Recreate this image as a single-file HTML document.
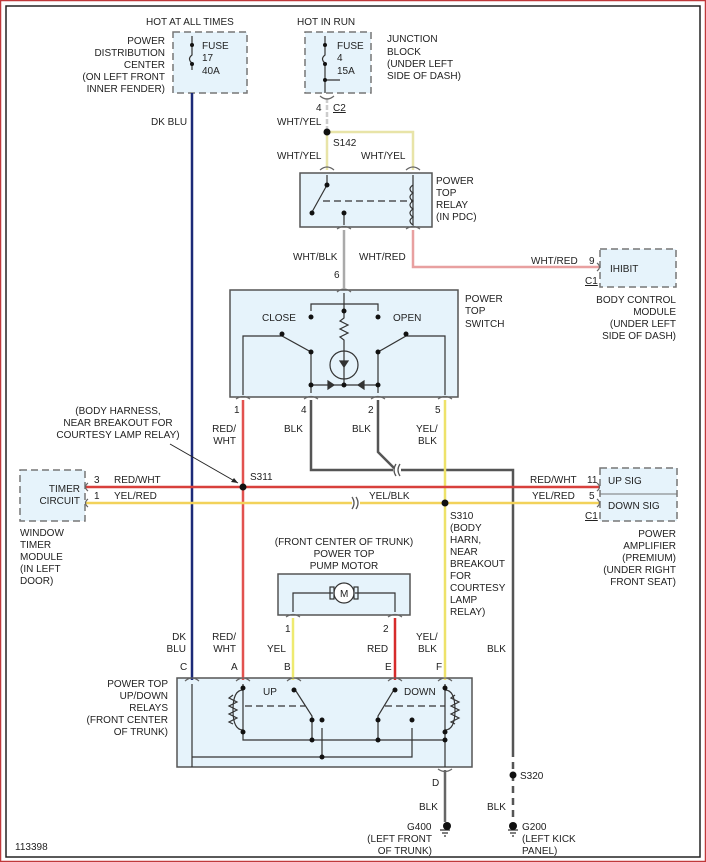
<!DOCTYPE html>
<html><head><meta charset="utf-8"><style>
html,body{margin:0;padding:0;background:#fff}
svg{display:block}
text{font-family:"Liberation Sans",Arial,sans-serif;font-size:10px;fill:#222}
</style></head><body>
<svg width="706" height="862" viewBox="0 0 706 862" xmlns="http://www.w3.org/2000/svg">
<rect x="0.5" y="0.5" width="705" height="861" fill="#fff" stroke="#c0393b" stroke-width="1.5"/>
<rect x="6" y="6" width="694" height="851" fill="#fff" stroke="#222" stroke-width="1.5"/>

<g fill="#e6f3fb" stroke="#777" stroke-width="1.5">
<rect x="173" y="32" width="74" height="61" stroke-dasharray="7,4"/>
<rect x="305" y="32" width="66" height="61" stroke-dasharray="7,4"/>
<rect x="300" y="173" width="132" height="54" stroke="#555"/>
<rect x="230" y="290" width="228" height="107" stroke="#555"/>
<rect x="20" y="470" width="65" height="51" stroke-dasharray="7,4"/>
<rect x="600" y="249" width="76" height="38" stroke-dasharray="7,4"/>
<rect x="600" y="468" width="77" height="53" stroke-dasharray="7,4"/>
<rect x="278" y="574" width="132" height="41" stroke="#555"/>
<rect x="177" y="678" width="295" height="89" stroke="#555"/>
</g>
<line x1="600" y1="494" x2="677" y2="494" stroke="#777" stroke-width="1"/>

<g fill="none" stroke-width="2.5">
<line x1="192" y1="93" x2="192" y2="680" stroke="#1c2a78"/>
<line x1="327" y1="98" x2="327" y2="132" stroke="#ccc" stroke-dasharray="5,2"/>
<path d="M327 132 V170 M327 132 H413 V170" stroke="#e8e4a8"/>
<line x1="344" y1="230" x2="344" y2="288" stroke="#aaa"/>
<path d="M413 230 V267 H600" stroke="#e8a0a0"/>
<line x1="243" y1="400" x2="243" y2="680" stroke="#e2524f"/>
<path d="M311 400 V470 H393 M401 470 H513 V750" stroke="#555"/>
<path d="M378 400 V452 L394 468" stroke="#555"/>
<line x1="513" y1="750" x2="513" y2="820" stroke="#555" stroke-dasharray="7,5"/>
<line x1="445" y1="400" x2="445" y2="680" stroke="#eee26a"/>
<line x1="85" y1="487" x2="600" y2="487" stroke="#d8403c"/>
<path d="M85 503 H352 M360 503 H600" stroke="#f2d25a"/>
<line x1="293" y1="618" x2="293" y2="680" stroke="#eeea70"/>
<line x1="395" y1="618" x2="395" y2="680" stroke="#d62b2b"/>
<line x1="445" y1="770" x2="445" y2="822" stroke="#666"/>
</g>
<g fill="none" stroke="#555" stroke-width="1.3">
<path d="M396 464 q-4 6 0 12 M400 464 q-4 6 0 12"/>
<path d="M352 497 q4 6 0 12 M356 497 q4 6 0 12"/>
</g>
<g fill="none" stroke="#666" stroke-width="1.2">
<path d="M320 96 q7 6 14 0"/>
<path d="M337 229 q7 -5 14 0 M406 229 q7 -5 14 0 M320 170 q7 -6 14 0 M406 170 q7 -6 14 0 M337 292 q7 -6 14 0"/>
<path d="M236 399 q7 -5 14 0 M304 399 q7 -5 14 0 M371 399 q7 -5 14 0 M438 399 q7 -5 14 0"/>
<path d="M286 617 q7 -5 14 0 M388 617 q7 -5 14 0"/>
<path d="M185 681 q7 -6 14 0 M236 681 q7 -6 14 0 M287 681 q7 -6 14 0 M388 681 q7 -6 14 0 M438 681 q7 -6 14 0 M438 769 q7 5 14 0"/>
<path d="M88 483 q-5 4 0 8 M88 499 q-5 4 0 8 M597 483 q5 4 0 8 M597 499 q5 4 0 8 M597 263 q5 4 0 8"/>
</g>

<g fill="none" stroke="#333" stroke-width="1.2">
<path d="M192 36 V55 q-5 4 0 8 V70"/>
<path d="M325 36 V55 q-5 4 0 8 V80 H340 M325 80 V93"/>
<path d="M327 175 V185 M327 185 L312 212 M344 213 V225 M413 175 V225 q-6 -4 0 -8 q-6 -4 0 -8 q-6 -4 0 -8 q-6 -4 0 -8 q-6 -4 0 -8"/>
<line x1="323" y1="201" x2="413" y2="201" stroke-dasharray="7,4"/>
<path d="M344 293 V311 M311 311 V304 H378 V311 M344 304 V318 l-4 3 8 4 -8 4 8 4 -8 4 4 3 V385 M243 395 V336 H282 L311 352 V393 M445 395 V336 H406 L378 352 V393 M311 385 H378"/>
<circle cx="344" cy="365" r="14"/>
<path d="M340 361 h8 l-4 6 z" fill="#333"/>
<path d="M334 385 l-6 -4 v8 z M358 385 l6 -4 v8 z" fill="#333"/>
<path d="M293 612 V593 H333 M355 593 H395 V612"/>
<circle cx="344" cy="593" r="10" fill="#fff"/>
<rect x="330" y="587" width="4" height="12"/><rect x="354" y="587" width="4" height="12"/>
<path d="M192 767 V684 M243 684 V740 H445 M243 690 q-10 0 -10 20 q0 20 10 20 M233 695 l-4 3 8 4 -8 4 8 4 -8 4 8 4 -8 4 4 2 M243 690 V730 M445 684 V767 M445 690 q10 0 10 20 q0 20 -10 20 M455 695 l-4 3 8 4 -8 4 8 4 -8 4 8 4 -8 4 4 2 M192 757 H322 V728 M322 757 H412 V728 M294 688 L312 716 V740 M395 688 L378 716 V740"/>
<line x1="245" y1="706" x2="305" y2="706" stroke-dasharray="7,4"/>
<line x1="385" y1="706" x2="445" y2="706" stroke-dasharray="7,4"/>
<path d="M440 830 h10 M442 833 h6 M444 836 h2 M508 830 h10 M510 833 h6 M512 836 h2"/>
</g>
<g fill="#111">
<circle cx="327" cy="132" r="3.5"/><circle cx="243" cy="487" r="3.5"/><circle cx="445" cy="503" r="3.5"/><circle cx="513" cy="775" r="3.5"/>
<circle cx="447" cy="826" r="4"/><circle cx="513" cy="826" r="4"/>
<circle cx="192" cy="45" r="2"/><circle cx="192" cy="64" r="2"/><circle cx="325" cy="45" r="2"/><circle cx="325" cy="64" r="2"/><circle cx="325" cy="80" r="2"/>
<circle cx="327" cy="185" r="2.5"/><circle cx="312" cy="213" r="2.5"/><circle cx="344" cy="213" r="2.5"/>
<circle cx="311" cy="317" r="2.5"/><circle cx="344" cy="311" r="2.5"/><circle cx="378" cy="317" r="2.5"/><circle cx="282" cy="334" r="2.5"/><circle cx="406" cy="334" r="2.5"/><circle cx="311" cy="352" r="2.5"/><circle cx="378" cy="352" r="2.5"/><circle cx="311" cy="385" r="2.5"/><circle cx="344" cy="385" r="2.5"/><circle cx="378" cy="385" r="2.5"/>
<circle cx="243" cy="688" r="2.5"/><circle cx="243" cy="732" r="2.5"/><circle cx="294" cy="690" r="2.5"/><circle cx="312" cy="720" r="2.5"/><circle cx="312" cy="740" r="2.5"/><circle cx="322" cy="720" r="2.5"/><circle cx="322" cy="757" r="2.5"/><circle cx="395" cy="690" r="2.5"/><circle cx="378" cy="720" r="2.5"/><circle cx="378" cy="740" r="2.5"/><circle cx="412" cy="720" r="2.5"/><circle cx="445" cy="688" r="2.5"/><circle cx="445" cy="732" r="2.5"/><circle cx="445" cy="740" r="2.5"/>
</g>

<text x="146" y="25">HOT AT ALL TIMES</text>
<text x="297" y="25">HOT IN RUN</text>
<text x="165" y="44" text-anchor="end">POWER</text>
<text x="165" y="56" text-anchor="end">DISTRIBUTION</text>
<text x="165" y="68" text-anchor="end">CENTER</text>
<text x="165" y="80" text-anchor="end">(ON LEFT FRONT</text>
<text x="165" y="92" text-anchor="end">INNER FENDER)</text>
<text x="202" y="49">FUSE</text><text x="202" y="61">17</text><text x="202" y="74">40A</text>
<text x="337" y="49">FUSE</text><text x="337" y="61">4</text><text x="337" y="74">15A</text>
<text x="387" y="42">JUNCTION</text><text x="387" y="55">BLOCK</text><text x="387" y="67">(UNDER LEFT</text><text x="387" y="79">SIDE OF DASH)</text>
<text x="151" y="125">DK BLU</text>
<text x="316" y="111">4</text><text x="333" y="111" text-decoration="underline">C2</text>
<text x="277" y="125">WHT/YEL</text>
<text x="333" y="146">S142</text>
<text x="277" y="159">WHT/YEL</text><text x="361" y="159">WHT/YEL</text>
<text x="436" y="184">POWER</text><text x="436" y="196">TOP</text><text x="436" y="208">RELAY</text><text x="436" y="220">(IN PDC)</text>
<text x="293" y="260">WHT/BLK</text><text x="359" y="260">WHT/RED</text>
<text x="334" y="278">6</text>
<text x="531" y="264">WHT/RED</text><text x="589" y="264">9</text>
<text x="585" y="284" text-decoration="underline">C1</text>
<text x="610" y="272">IHIBIT</text>
<text x="676" y="303" text-anchor="end">BODY CONTROL</text><text x="676" y="315" text-anchor="end">MODULE</text><text x="676" y="327" text-anchor="end">(UNDER LEFT</text><text x="676" y="339" text-anchor="end">SIDE OF DASH)</text>
<text x="465" y="302">POWER</text><text x="465" y="314">TOP</text><text x="465" y="327">SWITCH</text>
<text x="262" y="321">CLOSE</text><text x="393" y="321">OPEN</text>
<text x="234" y="413">1</text><text x="301" y="413">4</text><text x="368" y="413">2</text><text x="435" y="413">5</text>
<text x="236" y="432" text-anchor="end">RED/</text><text x="236" y="444" text-anchor="end">WHT</text>
<text x="284" y="432">BLK</text><text x="352" y="432">BLK</text>
<text x="416" y="432">YEL/</text><text x="418" y="444">BLK</text>
<text x="118" y="414" text-anchor="middle">(BODY HARNESS,</text><text x="118" y="426" text-anchor="middle">NEAR BREAKOUT FOR</text><text x="118" y="438" text-anchor="middle">COURTESY LAMP RELAY)</text>
<path d="M170 444 L238 483" stroke="#222" stroke-width="1"/><path d="M238 483 l-7 -1 3 -4z" fill="#222"/>
<text x="250" y="480">S311</text>
<text x="114" y="483">RED/WHT</text><text x="94" y="483">3</text>
<text x="114" y="499">YEL/RED</text><text x="94" y="499">1</text>
<text x="80" y="492" text-anchor="end">TIMER</text><text x="80" y="504" text-anchor="end">CIRCUIT</text>
<text x="20" y="536">WINDOW</text><text x="20" y="548">TIMER</text><text x="20" y="560">MODULE</text><text x="20" y="572">(IN LEFT</text><text x="20" y="584">DOOR)</text>
<text x="369" y="499">YEL/BLK</text>
<text x="450" y="519">S310</text><text x="450" y="531">(BODY</text><text x="450" y="543">HARN,</text><text x="450" y="555">NEAR</text><text x="450" y="567">BREAKOUT</text><text x="450" y="579">FOR</text><text x="450" y="591">COURTESY</text><text x="450" y="603">LAMP</text><text x="450" y="615">RELAY)</text>
<text x="530" y="483">RED/WHT</text><text x="587" y="483">11</text>
<text x="532" y="499">YEL/RED</text><text x="589" y="499">5</text>
<text x="585" y="519" text-decoration="underline">C1</text>
<text x="608" y="484">UP SIG</text><text x="608" y="509">DOWN SIG</text>
<text x="676" y="537" text-anchor="end">POWER</text><text x="676" y="549" text-anchor="end">AMPLIFIER</text><text x="676" y="561" text-anchor="end">(PREMIUM)</text><text x="676" y="573" text-anchor="end">(UNDER RIGHT</text><text x="676" y="585" text-anchor="end">FRONT SEAT)</text>
<text x="344" y="545" text-anchor="middle">(FRONT CENTER OF TRUNK)</text><text x="344" y="557" text-anchor="middle">POWER TOP</text><text x="344" y="569" text-anchor="middle">PUMP MOTOR</text>
<text x="340" y="597" font-size="11">M</text>
<text x="285" y="632">1</text><text x="383" y="632">2</text>
<text x="186" y="640" text-anchor="end">DK</text><text x="186" y="652" text-anchor="end">BLU</text>
<text x="236" y="640" text-anchor="end">RED/</text><text x="236" y="652" text-anchor="end">WHT</text>
<text x="267" y="652">YEL</text><text x="367" y="652">RED</text>
<text x="416" y="640">YEL/</text><text x="418" y="652">BLK</text>
<text x="487" y="652">BLK</text>
<text x="180" y="670">C</text><text x="231" y="670">A</text><text x="284" y="670">B</text><text x="385" y="670">E</text><text x="436" y="670">F</text>
<text x="168" y="687" text-anchor="end">POWER TOP</text><text x="168" y="699" text-anchor="end">UP/DOWN</text><text x="168" y="711" text-anchor="end">RELAYS</text><text x="168" y="723" text-anchor="end">(FRONT CENTER</text><text x="168" y="735" text-anchor="end">OF TRUNK)</text>
<text x="263" y="695">UP</text><text x="404" y="695">DOWN</text>
<text x="432" y="786">D</text>
<text x="419" y="810">BLK</text><text x="487" y="810">BLK</text>
<text x="520" y="779">S320</text>
<text x="407" y="830">G400</text>
<text x="432" y="842" text-anchor="end">(LEFT FRONT</text><text x="432" y="854" text-anchor="end">OF TRUNK)</text>
<text x="522" y="830">G200</text><text x="522" y="842">(LEFT KICK</text><text x="522" y="854">PANEL)</text>
<text x="15" y="850" font-size="9">113398</text>
</svg>
</body></html>
